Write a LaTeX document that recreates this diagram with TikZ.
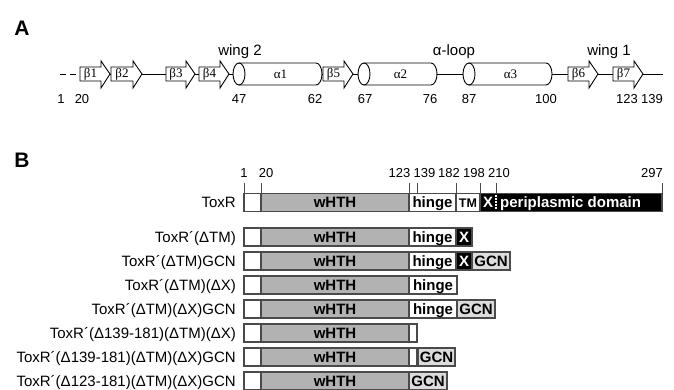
\documentclass[tikz,border=0pt]{standalone}
\usepackage{fontspec}
\setmainfont{Liberation Sans}
\newfontfamily\serifb{Liberation Serif}
\definecolor{barg}{HTML}{B2B2B2}
\definecolor{gcng}{HTML}{DCDCDC}
\definecolor{edge}{HTML}{4A4A4A}
\newcommand\betastrand[4]{%
  \draw[strand] (#1,67) -- ({#2-9},67) -- ({#2-9},61) -- (#2,74) -- ({#2-9},88) -- ({#2-9},81) -- (#1,81) -- cycle;
  \node[seg] (#3) at ({(#1+#2-9)/2},74) {#4};
}
\newcommand\alphahelix[4]{%
  \draw[strand] ({#1+6},63) -- ({#2-6},63) arc[start angle=-90, end angle=90, x radius=6, y radius=11] -- ({#1+6},85) -- cycle;
  \draw[strand] ({#1+6},74) ellipse [x radius=6, y radius=11];
  \node[seg] (#3) at ({(#1+#2)/2+3},74) {#4};
}
\begin{document}
\begin{tikzpicture}[x=1pt,y=-1pt,
 lab/.style={font=\fontsize{15}{17}\selectfont, inner sep=0pt, anchor=base east},
 toplab/.style={font=\fontsize{15}{17}\selectfont, inner sep=0pt},
 num/.style={font=\fontsize{13}{15}\selectfont, inner sep=0pt},
 panel/.style={font=\fontsize{21}{24}\selectfont\bfseries, inner sep=0pt},
 seg/.style={font=\fontsize{13}{14}\selectfont\serifb, inner sep=0pt},
 bartxt/.style={font=\fontsize{15}{16}\selectfont\bfseries, inner sep=0pt, anchor=base},
 strand/.style={draw=black, fill=white, line width=0.9pt, line join=miter},
 graybox/.style={draw=edge, fill=barg, line width=1.1pt},
 whitebox/.style={draw=edge, fill=white, line width=1.1pt},
 blackbox/.style={draw=edge, fill=black, line width=1.1pt},
 gcnbox/.style={draw=edge, fill=gcng, line width=1.1pt},
 tick/.style={draw=edge, line width=1pt},
]
\useasboundingbox (0,0) rectangle (674,390);

% ---------------- Panel A ----------------
\node[panel] (pA) at (22,28) {A};
\draw[line width=0.9pt, dash pattern=on 6pt off 4pt] (60,74) -- (80,74);
\draw[line width=0.9pt] (80,74) -- (663,74);

\betastrand{80}{110}{b1}{β1}
\betastrand{111}{142}{b2}{β2}
\betastrand{166}{195}{b3}{β3}
\betastrand{199}{229}{b4}{β4}
\alphahelix{233}{322}{a1}{α1}
\betastrand{323}{353}{b5}{β5}
\alphahelix{358}{437}{a2}{α2}
\alphahelix{463}{552}{a3}{α3}
\betastrand{568}{598}{b6}{β6}
\betastrand{613}{643}{b7}{β7}

\node[toplab] (w2) at (240,52) {wing 2};
\node[toplab] (al) at (454,52) {α-loop};
\node[toplab] (w1) at (609,52) {wing 1};

\node[num] (n1)   at (61,99)  {1};
\node[num] (n20)  at (82,99)  {20};
\node[num] (n47)  at (239,99) {47};
\node[num] (n62)  at (315,99) {62};
\node[num] (n67)  at (365,99) {67};
\node[num] (n76)  at (430,99) {76};
\node[num] (n87)  at (469,99) {87};
\node[num] (n100) at (546,99) {100};
\node[num] (n123) at (627,99) {123};
\node[num] (n139) at (652,99) {139};

% ---------------- Panel B ----------------
\node[panel] (pB) at (22,160) {B};

\node[num] (m1)   at (244,173)   {1};
\node[num] (m20)  at (266,173)   {20};
\node[num] (m123) at (399.5,173) {123};
\node[num] (m139) at (424.5,173) {139};
\node[num] (m182) at (449,173)   {182};
\node[num] (m198) at (474,173)   {198};
\node[num] (m210) at (499,173)   {210};
\node[num] (m297) at (652,173)   {297};
\foreach \t in {244,261,409,417,456,480,496,662}
  \draw[tick] (\t,183) -- (\t,193.5);

% ToxR
\draw[whitebox] (244,193.5) rectangle (261,211.5);
\draw[graybox]  (261,193.5) rectangle (409,211.5);
\draw[whitebox] (409,193.5) rectangle (456,211.5);
\draw[whitebox] (456,193.5) rectangle (480,211.5);
\draw[blackbox] (480,193.5) rectangle (662,211.5);
\draw[white, line width=1.2pt, dash pattern=on 1.5pt off 1.5pt] (496,195) -- (496,210);
\node[lab] (r0) at (236,207.9) {ToxR};
\node[bartxt] (r0w) at (335,207.8) {wHTH};
\node[bartxt] (r0h) at (432.5,207.8) {hinge};
\node[bartxt, font=\fontsize{12.5}{14}\selectfont\bfseries] (r0t) at (468,207.3) {TM};
\node[bartxt, text=white] (r0x) at (488,207.8) {X};
\node[bartxt, text=white, anchor=base west] (r0p) at (500,207.8) {periplasmic domain};

% row 1: (dTM)
\draw[whitebox] (244,228) rectangle (261,246);
\draw[graybox]  (261,228) rectangle (409,246);
\draw[whitebox] (409,228) rectangle (456,246);
\draw[blackbox] (456,228) rectangle (472,246);
\node[lab] (r1) at (236,242.4) {ToxR´(ΔTM)};
\node[bartxt] (r1w) at (335,242.3) {wHTH};
\node[bartxt] (r1h) at (432.5,242.3) {hinge};
\node[bartxt, text=white] (r1x) at (464,242.3) {X};

% row 2: (dTM)GCN
\draw[whitebox] (244,252) rectangle (261,270);
\draw[graybox]  (261,252) rectangle (409,270);
\draw[whitebox] (409,252) rectangle (456,270);
\draw[blackbox] (456,252) rectangle (472,270);
\draw[gcnbox]   (472,252) rectangle (510,270);
\node[lab] (r2) at (236,266.4) {ToxR´(ΔTM)GCN};
\node[bartxt] (r2w) at (335,266.3) {wHTH};
\node[bartxt] (r2h) at (432.5,266.3) {hinge};
\node[bartxt, text=white] (r2x) at (464,266.3) {X};
\node[bartxt] (r2g) at (491,266.3) {GCN};

% row 3: (dTM)(dX)
\draw[whitebox] (244,276) rectangle (261,294);
\draw[graybox]  (261,276) rectangle (409,294);
\draw[whitebox] (409,276) rectangle (457,294);
\node[lab] (r3) at (236,290.4) {ToxR´(ΔTM)(ΔX)};
\node[bartxt] (r3w) at (335,290.3) {wHTH};
\node[bartxt] (r3h) at (433,290.3) {hinge};

% row 4: (dTM)(dX)GCN
\draw[whitebox] (244,300) rectangle (261,318);
\draw[graybox]  (261,300) rectangle (409,318);
\draw[whitebox] (409,300) rectangle (457,318);
\draw[gcnbox]   (457,300) rectangle (495,318);
\node[lab] (r4) at (236,314.4) {ToxR´(ΔTM)(ΔX)GCN};
\node[bartxt] (r4w) at (335,314.3) {wHTH};
\node[bartxt] (r4h) at (433,314.3) {hinge};
\node[bartxt] (r4g) at (476,314.3) {GCN};

% row 5: (d139-181)(dTM)(dX)
\draw[whitebox] (244,324) rectangle (261,342);
\draw[graybox]  (261,324) rectangle (409,342);
\draw[whitebox] (409,324) rectangle (417,342);
\node[lab] (r5) at (236,338.4) {ToxR´(Δ139-181)(ΔTM)(ΔX)};
\node[bartxt] (r5w) at (335,338.3) {wHTH};

% row 6: (d139-181)(dTM)(dX)GCN
\draw[whitebox] (244,348) rectangle (261,366);
\draw[graybox]  (261,348) rectangle (409,366);
\draw[whitebox] (409,348) rectangle (417,366);
\draw[gcnbox]   (418,348) rectangle (455,366);
\node[lab] (r6) at (236,362.4) {ToxR´(Δ139-181)(ΔTM)(ΔX)GCN};
\node[bartxt] (r6w) at (335,362.3) {wHTH};
\node[bartxt] (r6g) at (436.5,362.3) {GCN};

% row 7: (d123-181)(dTM)(dX)GCN
\draw[whitebox] (244,372) rectangle (261,389.5);
\draw[graybox]  (261,372) rectangle (409,389.5);
\draw[gcnbox]   (409,372) rectangle (447,389.5);
\node[lab] (r7) at (236,386.2) {ToxR´(Δ123-181)(ΔTM)(ΔX)GCN};
\node[bartxt] (r7w) at (335,386.1) {wHTH};
\node[bartxt] (r7g) at (428,386.1) {GCN};
\end{tikzpicture}
\end{document}
